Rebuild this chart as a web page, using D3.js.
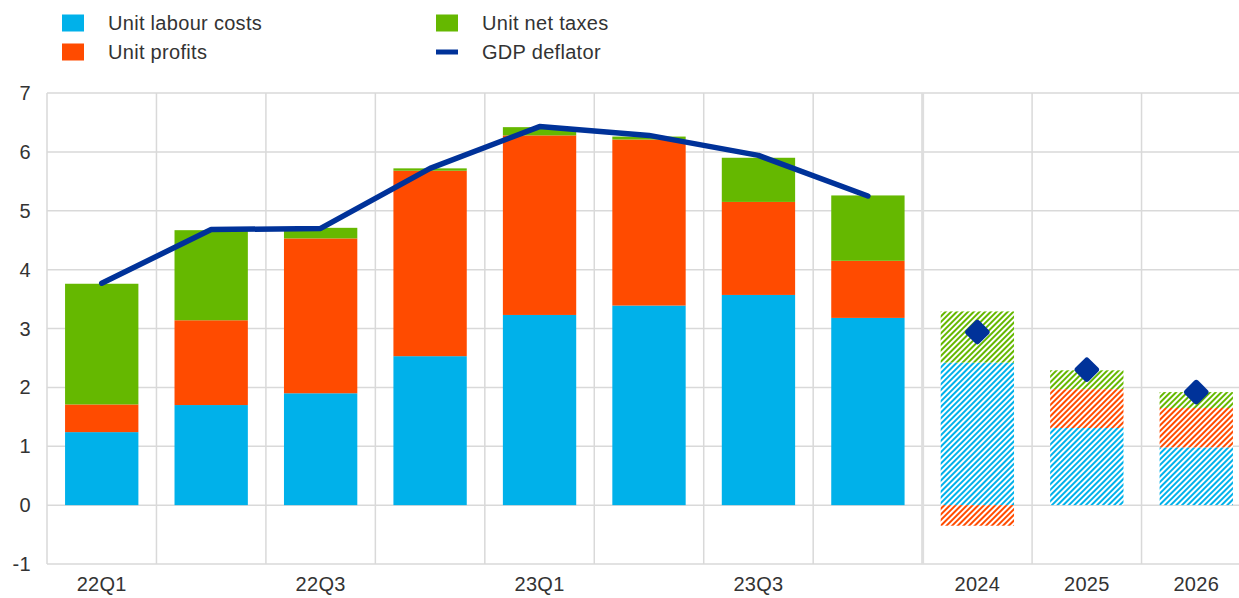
<!DOCTYPE html>
<html>
<head>
<meta charset="utf-8">
<script src="https://cdn.jsdelivr.net/npm/d3@7"></script>
<style>
  body { margin: 0; background: #fff; }
  svg text { font-family: "Liberation Sans", Arial, sans-serif; fill: #333; letter-spacing: 0.3px; }
</style>
</head>
<body>
<svg id="chart" width="1239" height="598"></svg>
<script>
// quarterly outturns, then annual projections
const categories = ["22Q1", "22Q2", "22Q3", "22Q4", "23Q1", "23Q2", "23Q3", "23Q4", "2024", "2025", "2026"];
const tickLabels = ["22Q1", "", "22Q3", "", "23Q1", "", "23Q3", "", "2024", "2025", "2026"];
const projected = [false, false, false, false, false, false, false, false, true, true, true];

const unitLabourCosts = [1.24, 1.70, 1.90, 2.53, 3.23, 3.39, 3.57, 3.18, 2.42, 1.31, 0.98];
const unitProfits = [0.47, 1.44, 2.63, 3.15, 3.05, 2.82, 1.58, 0.97, -0.35, 0.66, 0.67];
const unitNetTaxes = [2.05, 1.53, 0.18, 0.04, 0.14, 0.05, 0.75, 1.11, 0.87, 0.32, 0.27];
const gdpDeflator = [3.77, 4.68, 4.70, 5.72, 6.43, 6.28, 5.94, 5.25, 2.94, 2.30, 1.92];

const yTicks = [-1, 0, 1, 2, 3, 4, 5, 6, 7];

const series = [
    {key: "ulc", name: "Unit labour costs", color: "#00b1ea", values: unitLabourCosts},
    {key: "prof", name: "Unit profits", color: "#ff4b00", values: unitProfits},
    {key: "tax", name: "Unit net taxes", color: "#65b800", values: unitNetTaxes}
];
const lineColor = "#003299";

const svg = d3.select("#chart");

const x = d3.scaleBand()
    .domain(categories)
    .range([47, 1251])
    .paddingInner(0.33)
    .paddingOuter(0.165);

const y = d3.scaleLinear()
    .domain([-1, 7])
    .range([564, 93]);

// hatch patterns for projections
const defs = svg.append("defs");
series.forEach(function (s) {
    const p = defs.append("pattern")
        .attr("id", "hatch-" + s.key)
        .attr("patternUnits", "userSpaceOnUse")
        .attr("width", 4)
        .attr("height", 4)
        .attr("patternTransform", "rotate(45)");
    p.append("rect").attr("width", 4).attr("height", 4).attr("fill", "#fff");
    p.append("rect").attr("width", 2).attr("height", 4).attr("fill", s.color);
});

// grid
const step = x.step();
const x0 = x.range()[0];
svg.append("g").attr("class", "hgrid")
    .selectAll("line")
    .data(yTicks)
    .join("line")
    .attr("x1", x0).attr("x2", 1251)
    .attr("y1", d => y(d)).attr("y2", d => y(d))
    .attr("stroke", "#d9d9d9")
    .attr("stroke-width", 1.5);

svg.append("g").attr("class", "vgrid")
    .selectAll("line")
    .data(d3.range(categories.length + 1))
    .join("line")
    .attr("x1", i => x0 + i * step).attr("x2", i => x0 + i * step)
    .attr("y1", y(7)).attr("y2", y(-1))
    .attr("stroke", i => i == 8 ? "#dedede" : "#d9d9d9")
    .attr("stroke-width", i => i == 8 ? 3 : 1.5);

// stacked bars
const rows = categories.map(function (c, i) {
    return {cat: c, ulc: unitLabourCosts[i], prof: unitProfits[i], tax: unitNetTaxes[i], proj: projected[i]};
});
const stacked = d3.stack()
    .keys(series.map(s => s.key))
    .offset(d3.stackOffsetDiverging)(rows);

svg.append("g").attr("class", "bars")
    .selectAll("g")
    .data(stacked)
    .join("g")
    .each(function (layer, li) {
        const s = series[li];
        d3.select(this).selectAll("rect")
            .data(layer)
            .join("rect")
            .attr("x", d => x(d.data.cat))
            .attr("width", x.bandwidth())
            .attr("y", d => y(Math.max(d[0], d[1])))
            .attr("height", d => Math.abs(y(d[0]) - y(d[1])))
            .attr("fill", d => d.data.proj ? "url(#hatch-" + s.key + ")" : s.color);
    });

// GDP deflator line over quarters, diamonds for projections
const lineData = categories.map((c, i) => ({cat: c, v: gdpDeflator[i], proj: projected[i]}));
const line = d3.line()
    .x(d => x(d.cat) + x.bandwidth() / 2)
    .y(d => y(d.v));

svg.append("path")
    .datum(lineData.filter(d => !d.proj))
    .attr("d", line)
    .attr("fill", "none")
    .attr("stroke", lineColor)
    .attr("stroke-width", 5.5)
    .attr("stroke-linecap", "round")
    .attr("stroke-linejoin", "round");

svg.append("g").attr("class", "diamonds")
    .selectAll("rect")
    .data(lineData.filter(d => d.proj))
    .join("rect")
    .attr("x", -9.5).attr("y", -9.5)
    .attr("width", 19).attr("height", 19)
    .attr("rx", 3)
    .attr("fill", lineColor)
    .attr("transform", d => "translate(" + (x(d.cat) + x.bandwidth() / 2) + "," + y(d.v) + ") rotate(45)");

// axis labels
svg.append("g").attr("class", "ylabels")
    .selectAll("text")
    .data(yTicks)
    .join("text")
    .attr("x", 31)
    .attr("y", d => y(d))
    .attr("dy", "0.35em")
    .attr("text-anchor", "end")
    .style("font-size", "20px")
    .text(d => d);

svg.append("g").attr("class", "xlabels")
    .selectAll("text")
    .data(categories)
    .join("text")
    .attr("x", d => x(d) + x.bandwidth() / 2)
    .attr("y", 584)
    .attr("dy", "0.35em")
    .attr("text-anchor", "middle")
    .style("font-size", "20px")
    .text((d, i) => tickLabels[i]);

// legend
const legend = svg.append("g").attr("class", "legend");
const legendItems = [
    {name: series[0].name, color: series[0].color, type: "box", lx: 62, ly: 23},
    {name: series[1].name, color: series[1].color, type: "box", lx: 62, ly: 52},
    {name: series[2].name, color: series[2].color, type: "box", lx: 436, ly: 23},
    {name: "GDP deflator", color: lineColor, type: "line", lx: 436, ly: 52}
];
legendItems.forEach(function (d) {
    if (d.type == "box") {
        legend.append("rect")
            .attr("x", d.lx).attr("y", d.ly - 8.5)
            .attr("width", 22).attr("height", 17)
            .attr("fill", d.color);
    } else {
        legend.append("line")
            .attr("x1", d.lx).attr("x2", d.lx + 22)
            .attr("y1", d.ly).attr("y2", d.ly)
            .attr("stroke", d.color)
            .attr("stroke-width", 5);
    }
    legend.append("text")
        .attr("x", d.lx + 46)
        .attr("y", d.ly)
        .attr("dy", "0.35em")
        .style("font-size", "20px")
        .text(d.name);
});
</script>
</body>
</html>
